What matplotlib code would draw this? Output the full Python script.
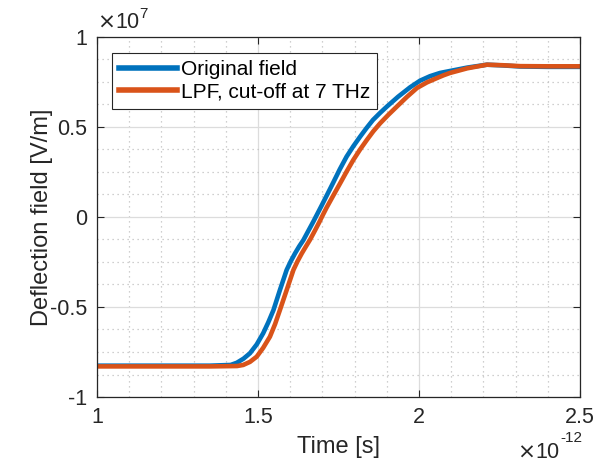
import numpy as np
import matplotlib.pyplot as plt
from matplotlib.ticker import MultipleLocator

plt.rcParams['font.family'] = ['Liberation Sans', 'DejaVu Sans']

# time in units of 1e-12 s, field in units of 1e7 V/m
t_orig = [1.0, 1.35, 1.415, 1.434, 1.455, 1.475, 1.496, 1.516, 1.532, 1.548, 1.568, 1.589,
          1.602, 1.615, 1.628, 1.641, 1.656, 1.672, 1.685, 1.698, 1.715, 1.733, 1.754,
          1.775, 1.796, 1.817, 1.837, 1.857, 1.879, 1.900, 1.935, 1.972, 2.003, 2.034,
          2.065, 2.096, 2.150, 2.211, 2.260, 2.314, 2.40, 2.5]
e_orig = [-0.826, -0.826, -0.822, -0.810, -0.787, -0.757, -0.708, -0.646, -0.585, -0.517,
          -0.406, -0.294, -0.245, -0.202, -0.163, -0.128, -0.078, -0.025, 0.020, 0.065,
          0.125, 0.189, 0.265, 0.335, 0.393, 0.446, 0.494, 0.539, 0.578, 0.613, 0.668,
          0.720, 0.757, 0.782, 0.800, 0.811, 0.830, 0.846, 0.842, 0.836, 0.834, 0.834]

t_lpf = [1.0, 1.35, 1.435, 1.454, 1.475, 1.496, 1.516, 1.537, 1.553, 1.568, 1.589, 1.610,
         1.623, 1.636, 1.649, 1.661, 1.676, 1.690, 1.701, 1.713, 1.734, 1.755, 1.776,
         1.796, 1.817, 1.838, 1.858, 1.879, 1.905, 1.931, 1.963, 1.994, 2.025, 2.056,
         2.076, 2.096, 2.150, 2.211, 2.260, 2.314, 2.40, 2.5]
e_lpf = [-0.830, -0.830, -0.828, -0.822, -0.805, -0.776, -0.727, -0.665, -0.595, -0.517,
         -0.406, -0.294, -0.245, -0.202, -0.163, -0.128, -0.078, -0.030, 0.010, 0.052,
         0.120, 0.187, 0.255, 0.317, 0.375, 0.428, 0.476, 0.520, 0.568, 0.613, 0.668,
         0.717, 0.748, 0.772, 0.787, 0.800, 0.826, 0.846, 0.843, 0.838, 0.837, 0.837]

fig = plt.figure(figsize=(6.04, 4.68), dpi=100)
ax = fig.add_axes([0.1606, 0.1517, 0.7997, 0.7693])

ax.plot(t_orig, e_orig, color='#0072BD', lw=3.3, label='Original field', solid_joinstyle='round')
ax.plot(t_lpf, e_lpf, color='#D95319', lw=3.3, label='LPF, cut-off at 7 THz', solid_joinstyle='round')

ax.set_xlim(1, 2.5)
ax.set_ylim(-1, 1)
ax.xaxis.set_minor_locator(MultipleLocator(0.1))
ax.yaxis.set_minor_locator(MultipleLocator(0.125))
ax.set_xticks([1, 1.5, 2, 2.5], ['1', '1.5', '2', '2.5'])
ax.set_yticks([-1, -0.5, 0, 0.5, 1], ['-1', '-0.5', '0', '0.5', '1'])

ax.grid(True, which='major', color='#dcdcdc', lw=0.9)
ax.grid(True, which='minor', color='#c0c0c0', lw=0.9, ls=(0, (1, 3)))
ax.set_axisbelow(True)

ax.tick_params(which='major', direction='in', length=5, width=0.8, top=True, right=True,
               labelsize=15.5, colors='#262626', pad=7)
ax.tick_params(which='minor', length=0)
for s in ax.spines.values():
    s.set_color('#262626')
    s.set_linewidth(0.9)

ax.set_xlabel('Time [s]', fontsize=17, color='#262626', labelpad=6)
ax.set_ylabel('Deflection field [V/m]', fontsize=17, color='#262626', labelpad=-2)

# MATLAB style exponent labels
ax.text(0.0, 1.01, r'$\times$10', transform=ax.transAxes, fontsize=15.5,
        color='#262626', ha='left', va='bottom')
ax.text(0.088, 1.045, '7', transform=ax.transAxes, fontsize=11,
        color='#262626', ha='left', va='bottom')
ax.text(0.87, -0.125, r'$\times$10', transform=ax.transAxes, fontsize=15.5,
        color='#262626', ha='left', va='top')
ax.text(0.96, -0.095, '-12', transform=ax.transAxes, fontsize=11,
        color='#262626', ha='left', va='top')

leg = ax.legend(loc='upper left', bbox_to_anchor=(0.031, 0.955), fontsize=15, frameon=True,
                fancybox=False, edgecolor='#262626', framealpha=1, handlelength=2.75,
                handletextpad=0.2, borderpad=0.35, labelspacing=0.15, borderaxespad=0)
leg.get_frame().set_linewidth(0.8)
for line in leg.get_lines():
    line.set_linewidth(4)

fig.savefig('out.png', dpi=100)
